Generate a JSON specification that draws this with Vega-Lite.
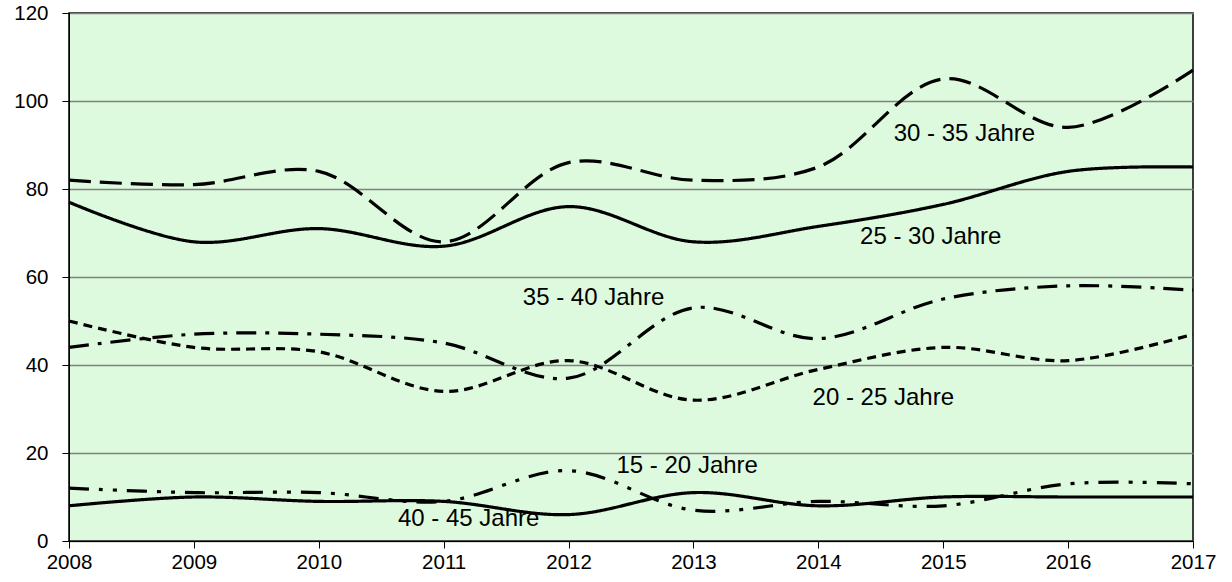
{
  "$schema": "https://vega.github.io/schema/vega-lite/v6.json",
  "width": 1124,
  "height": 528,
  "autosize": {"type": "none"},
  "padding": {"left": 69, "top": 13, "right": 39, "bottom": 41},
  "background": "white",
  "config": {
    "font": "Liberation Sans",
    "view": {"fill": "#defade", "stroke": "black", "strokeWidth": 1.5},
    "axis": {"labelFont": "Liberation Sans", "labelFontSize": 20.5, "labelColor": "black", "domainColor": "black", "tickColor": "black", "tickSize": 7, "title": null, "labelFlush": false, "labelOverlap": false}
  },
  "datasets": {
    "series": [
      {"year": 2008, "group": "25 - 30", "value": 77}, {"year": 2009, "group": "25 - 30", "value": 68}, {"year": 2010, "group": "25 - 30", "value": 71}, {"year": 2011, "group": "25 - 30", "value": 67}, {"year": 2012, "group": "25 - 30", "value": 76}, {"year": 2013, "group": "25 - 30", "value": 68}, {"year": 2014, "group": "25 - 30", "value": 71.5}, {"year": 2015, "group": "25 - 30", "value": 76.5}, {"year": 2016, "group": "25 - 30", "value": 84}, {"year": 2017, "group": "25 - 30", "value": 85},
      {"year": 2008, "group": "30 - 35", "value": 82}, {"year": 2009, "group": "30 - 35", "value": 81}, {"year": 2010, "group": "30 - 35", "value": 84}, {"year": 2011, "group": "30 - 35", "value": 68}, {"year": 2012, "group": "30 - 35", "value": 86}, {"year": 2013, "group": "30 - 35", "value": 82}, {"year": 2014, "group": "30 - 35", "value": 85}, {"year": 2015, "group": "30 - 35", "value": 105}, {"year": 2016, "group": "30 - 35", "value": 94}, {"year": 2017, "group": "30 - 35", "value": 107},
      {"year": 2008, "group": "35 - 40", "value": 44}, {"year": 2009, "group": "35 - 40", "value": 47}, {"year": 2010, "group": "35 - 40", "value": 47}, {"year": 2011, "group": "35 - 40", "value": 45}, {"year": 2012, "group": "35 - 40", "value": 37}, {"year": 2013, "group": "35 - 40", "value": 53}, {"year": 2014, "group": "35 - 40", "value": 46}, {"year": 2015, "group": "35 - 40", "value": 55}, {"year": 2016, "group": "35 - 40", "value": 58}, {"year": 2017, "group": "35 - 40", "value": 57},
      {"year": 2008, "group": "20 - 25", "value": 50}, {"year": 2009, "group": "20 - 25", "value": 44}, {"year": 2010, "group": "20 - 25", "value": 43}, {"year": 2011, "group": "20 - 25", "value": 34}, {"year": 2012, "group": "20 - 25", "value": 41}, {"year": 2013, "group": "20 - 25", "value": 32}, {"year": 2014, "group": "20 - 25", "value": 39}, {"year": 2015, "group": "20 - 25", "value": 44}, {"year": 2016, "group": "20 - 25", "value": 41}, {"year": 2017, "group": "20 - 25", "value": 47},
      {"year": 2008, "group": "15 - 20", "value": 12}, {"year": 2009, "group": "15 - 20", "value": 11}, {"year": 2010, "group": "15 - 20", "value": 11}, {"year": 2011, "group": "15 - 20", "value": 9}, {"year": 2012, "group": "15 - 20", "value": 16}, {"year": 2013, "group": "15 - 20", "value": 7}, {"year": 2014, "group": "15 - 20", "value": 9}, {"year": 2015, "group": "15 - 20", "value": 8}, {"year": 2016, "group": "15 - 20", "value": 13}, {"year": 2017, "group": "15 - 20", "value": 13},
      {"year": 2008, "group": "40 - 45", "value": 8}, {"year": 2009, "group": "40 - 45", "value": 10}, {"year": 2010, "group": "40 - 45", "value": 9}, {"year": 2011, "group": "40 - 45", "value": 9}, {"year": 2012, "group": "40 - 45", "value": 6}, {"year": 2013, "group": "40 - 45", "value": 11}, {"year": 2014, "group": "40 - 45", "value": 8}, {"year": 2015, "group": "40 - 45", "value": 10}, {"year": 2016, "group": "40 - 45", "value": 10}, {"year": 2017, "group": "40 - 45", "value": 10}
    ],
    "labels": [
      {"label": "30 - 35 Jahre", "year": 2015.17, "value": 92.6},
      {"label": "25 - 30 Jahre", "year": 2014.9, "value": 69.2},
      {"label": "35 - 40 Jahre", "year": 2012.2, "value": 55.2},
      {"label": "20 - 25 Jahre", "year": 2014.52, "value": 32.6},
      {"label": "15 - 20 Jahre", "year": 2012.95, "value": 17},
      {"label": "40 - 45 Jahre", "year": 2011.2, "value": 5}
    ]
  },
  "encoding": {
    "x": {"field": "year", "type": "quantitative", "scale": {"domain": [2008, 2017], "nice": false, "zero": false}, "axis": {"values": [2008, 2009, 2010, 2011, 2012, 2013, 2014, 2015, 2016, 2017], "format": "d", "grid": false, "labelPadding": 4}},
    "y": {"field": "value", "type": "quantitative", "scale": {"domain": [0, 120], "nice": false}, "axis": {"values": [0, 20, 40, 60, 80, 100, 120], "grid": true, "gridColor": "#808080", "gridWidth": 1.5, "labelPadding": 14}}
  },
  "layer": [
    {
      "data": {"name": "series"},
      "mark": {"type": "line", "interpolate": "catmull-rom", "color": "black", "strokeWidth": 3.2, "strokeCap": "butt"},
      "encoding": {
        "detail": {"field": "group"},
        "strokeDash": {"field": "group", "type": "nominal", "scale": {"domain": ["25 - 30", "30 - 35", "35 - 40", "20 - 25", "15 - 20", "40 - 45"], "range": [[1, 0], [22, 9], [20, 9, 4, 9], [9, 6], [20, 10, 4, 10, 4, 10], [1, 0]]}, "legend": null}
      }
    },
    {
      "data": {"name": "labels"},
      "mark": {"type": "text", "font": "Liberation Sans", "fontSize": 24, "color": "black", "align": "center", "baseline": "middle"},
      "encoding": {"text": {"field": "label"}}
    }
  ]
}
